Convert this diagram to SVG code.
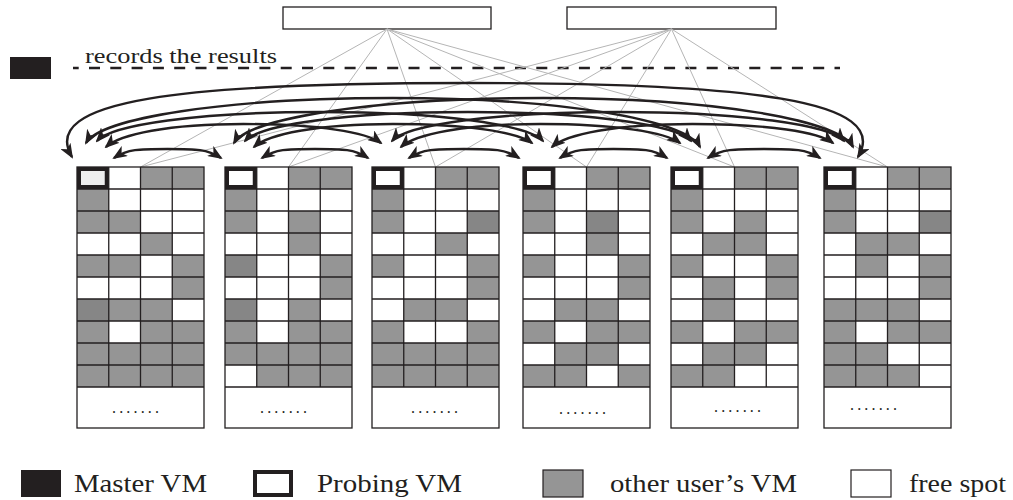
<svg xmlns="http://www.w3.org/2000/svg" width="1013" height="500" viewBox="0 0 1013 500">
  <style>
    .ink{fill:#231f20}
    .box{fill:#fff;stroke:#231f20;stroke-width:1.3}
    .g{fill:#959595}
    .d{fill:#868686}
    .ln{fill:none;stroke:#231f20;stroke-width:1.3}
    .probe{fill:none;stroke:#231f20;stroke-width:4}
    .wire{stroke:#b5b5b5;stroke-width:1;fill:none}
    .arc{fill:none;stroke:#231f20;stroke-width:2.4;marker-start:url(#ah);marker-end:url(#ah)}
    .lbl{font-family:"Liberation Serif","Times New Roman",serif;fill:#231f20}
    .dots{font-family:"Liberation Serif","Times New Roman",serif;font-size:16px;fill:#231f20}
  </style>
  <defs>
    <marker id="ah" viewBox="0 0 15 12" refX="13" refY="6" markerWidth="15" markerHeight="12" markerUnits="userSpaceOnUse" orient="auto-start-reverse">
      <path d="M0,0 L15,6 L0,12 L4,6 z" fill="#231f20"/>
    </marker>
    <!-- shared grid lines of one host rack: 4 columns x 10 rows, plus a bottom box -->
    <g id="rack-lines">
      <path class="ln" d="M31.75,0V220M63.5,0V220M95.25,0V220M0,22H127M0,44H127M0,66H127M0,88H127M0,110H127M0,132H127M0,154H127M0,176H127M0,198H127M0,220H127"/>
      <rect class="ln" x="0" y="0" width="127" height="261"/>
      <rect class="probe" x="2" y="2" width="27.75" height="18"/>
    </g>
  </defs>

  <rect width="1013" height="500" fill="#fff"/>

  <!-- top servers -->
  <g id="server-a"><rect class="box" x="283" y="7" width="208" height="22"/></g>
  <g id="server-b"><rect class="box" x="567" y="7" width="209" height="22"/></g>

  <!-- master VM and its result line -->
  <g id="master">
    <rect class="ink" x="10" y="57" width="41" height="22"/>
    <line x1="73" y1="68" x2="840" y2="68" stroke="#231f20" stroke-width="2.4" stroke-dasharray="11 10.3" stroke-dashoffset="5.3"/>
    <text class="lbl" x="85" y="63" font-size="22" textLength="192" lengthAdjust="spacingAndGlyphs">records the results</text>
  </g>

  <!-- thin links from the servers to the racks -->
  <g id="links">
    <path class="wire" d="M387,29L140.5,167M387,29L288.5,167M387,29L435.5,167M387,29L586.5,167M387,29L734.5,167M387,29L887.5,167"/>
    <path class="wire" d="M671.5,29L140.5,167M671.5,29L288.5,167M671.5,29L435.5,167M671.5,29L586.5,167M671.5,29L734.5,167M671.5,29L887.5,167"/>
  </g>

  <!-- racks -->
  <g id="rack1" transform="translate(77,167)">
    <rect x="0" y="0" width="127" height="261" fill="#fff"/>
    <rect x="3" y="3" width="26" height="16" fill="#eeeeee"/>
    <rect class="g" x="63.5" y="0" width="63.5" height="22"/>
    <rect class="g" x="0" y="22" width="31.75" height="22"/>
    <rect class="g" x="0" y="44" width="63.5" height="22"/>
    <rect class="g" x="63.5" y="66" width="31.75" height="22"/>
    <rect class="g" x="0" y="88" width="63.5" height="22"/>
    <rect class="g" x="95.25" y="88" width="31.75" height="22"/>
    <rect class="g" x="95.25" y="110" width="31.75" height="22"/>
    <rect class="d" x="0" y="132" width="31.75" height="22"/>
    <rect class="g" x="31.75" y="132" width="63.5" height="22"/>
    <rect class="g" x="0" y="154" width="31.75" height="22"/>
    <rect class="g" x="63.5" y="154" width="63.5" height="22"/>
    <rect class="g" x="0" y="176" width="127" height="44"/>
    <use href="#rack-lines"/>
    <text class="dots" x="35" y="246" textLength="47" lengthAdjust="spacing">.......</text>
  </g>

  <g id="rack2" transform="translate(225,167)">
    <rect x="0" y="0" width="127" height="261" fill="#fff"/>
    <rect class="g" x="63.5" y="0" width="63.5" height="22"/>
    <rect class="g" x="0" y="22" width="31.75" height="22"/>
    <rect class="g" x="0" y="44" width="31.75" height="22"/>
    <rect class="g" x="63.5" y="44" width="31.75" height="22"/>
    <rect class="g" x="63.5" y="66" width="31.75" height="22"/>
    <rect class="d" x="0" y="88" width="31.75" height="22"/>
    <rect class="g" x="95.25" y="88" width="31.75" height="22"/>
    <rect class="g" x="95.25" y="110" width="31.75" height="22"/>
    <rect class="d" x="0" y="132" width="31.75" height="22"/>
    <rect class="g" x="63.5" y="132" width="31.75" height="22"/>
    <rect class="g" x="0" y="154" width="31.75" height="22"/>
    <rect class="g" x="63.5" y="154" width="63.5" height="22"/>
    <rect class="g" x="0" y="176" width="127" height="22"/>
    <rect class="g" x="31.75" y="198" width="95.25" height="22"/>
    <use href="#rack-lines"/>
    <text class="dots" x="35" y="246" textLength="47" lengthAdjust="spacing">.......</text>
  </g>

  <g id="rack3" transform="translate(372,167)">
    <rect x="0" y="0" width="127" height="261" fill="#fff"/>
    <rect class="g" x="63.5" y="0" width="63.5" height="22"/>
    <rect class="g" x="0" y="22" width="31.75" height="22"/>
    <rect class="g" x="0" y="44" width="31.75" height="22"/>
    <rect class="d" x="95.25" y="44" width="31.75" height="22"/>
    <rect class="g" x="63.5" y="66" width="31.75" height="22"/>
    <rect class="g" x="0" y="88" width="31.75" height="22"/>
    <rect class="g" x="95.25" y="88" width="31.75" height="22"/>
    <rect class="g" x="95.25" y="110" width="31.75" height="22"/>
    <rect class="g" x="31.75" y="132" width="63.5" height="22"/>
    <rect class="g" x="0" y="154" width="31.75" height="22"/>
    <rect class="g" x="95.25" y="154" width="31.75" height="22"/>
    <rect class="g" x="0" y="176" width="127" height="44"/>
    <use href="#rack-lines"/>
    <text class="dots" x="39" y="246" textLength="47" lengthAdjust="spacing">.......</text>
  </g>

  <g id="rack4" transform="translate(523,167)">
    <rect x="0" y="0" width="127" height="261" fill="#fff"/>
    <rect class="g" x="63.5" y="0" width="63.5" height="22"/>
    <rect class="g" x="0" y="22" width="31.75" height="22"/>
    <rect class="g" x="0" y="44" width="31.75" height="22"/>
    <rect class="d" x="63.5" y="44" width="31.75" height="22"/>
    <rect class="g" x="63.5" y="66" width="31.75" height="22"/>
    <rect class="g" x="0" y="88" width="31.75" height="22"/>
    <rect class="g" x="95.25" y="88" width="31.75" height="22"/>
    <rect class="g" x="95.25" y="110" width="31.75" height="22"/>
    <rect class="g" x="31.75" y="132" width="63.5" height="22"/>
    <rect class="g" x="0" y="154" width="31.75" height="22"/>
    <rect class="g" x="63.5" y="154" width="63.5" height="22"/>
    <rect class="g" x="31.75" y="176" width="63.5" height="22"/>
    <rect class="g" x="0" y="198" width="63.5" height="22"/>
    <rect class="g" x="95.25" y="198" width="31.75" height="22"/>
    <use href="#rack-lines"/>
    <text class="dots" x="36" y="247" textLength="47" lengthAdjust="spacing">.......</text>
  </g>

  <g id="rack5" transform="translate(671,167)">
    <rect x="0" y="0" width="127" height="261" fill="#fff"/>
    <rect class="g" x="63.5" y="0" width="63.5" height="22"/>
    <rect class="g" x="0" y="22" width="31.75" height="22"/>
    <rect class="g" x="0" y="44" width="31.75" height="22"/>
    <rect class="g" x="63.5" y="44" width="31.75" height="22"/>
    <rect class="g" x="31.75" y="66" width="63.5" height="22"/>
    <rect class="g" x="0" y="88" width="31.75" height="22"/>
    <rect class="g" x="95.25" y="88" width="31.75" height="22"/>
    <rect class="g" x="31.75" y="110" width="31.75" height="22"/>
    <rect class="g" x="95.25" y="110" width="31.75" height="22"/>
    <rect class="g" x="31.75" y="132" width="31.75" height="22"/>
    <rect class="g" x="0" y="154" width="31.75" height="22"/>
    <rect class="g" x="63.5" y="154" width="63.5" height="22"/>
    <rect class="g" x="31.75" y="176" width="63.5" height="22"/>
    <rect class="g" x="0" y="198" width="63.5" height="22"/>
    <use href="#rack-lines"/>
    <text class="dots" x="43" y="245" textLength="47" lengthAdjust="spacing">.......</text>
  </g>

  <g id="rack6" transform="translate(824,167)">
    <rect x="0" y="0" width="127" height="261" fill="#fff"/>
    <rect class="g" x="63.5" y="0" width="63.5" height="22"/>
    <rect class="g" x="0" y="22" width="31.75" height="22"/>
    <rect class="g" x="0" y="44" width="31.75" height="22"/>
    <rect class="d" x="95.25" y="44" width="31.75" height="22"/>
    <rect class="g" x="31.75" y="66" width="63.5" height="22"/>
    <rect class="g" x="31.75" y="88" width="31.75" height="22"/>
    <rect class="g" x="95.25" y="88" width="31.75" height="22"/>
    <rect class="g" x="95.25" y="110" width="31.75" height="22"/>
    <rect class="g" x="0" y="132" width="95.25" height="22"/>
    <rect class="g" x="0" y="154" width="31.75" height="22"/>
    <rect class="g" x="63.5" y="154" width="63.5" height="22"/>
    <rect class="g" x="0" y="176" width="63.5" height="22"/>
    <rect class="g" x="0" y="198" width="95.25" height="22"/>
    <use href="#rack-lines"/>
    <text class="dots" x="26" y="243" textLength="47" lengthAdjust="spacing">.......</text>
  </g>

  <!-- probing VMs talk to each other: one double-headed arc per pair -->
  <g id="connectors">
    <path class="arc" d="M114,158 C128,149 138.1,149 167.5,149 C196.9,149 207,149 221,158"/>
    <path class="arc" d="M262,158 C276,149 285.85,149 315,149 C344.15,149 354,149 368,158"/>
    <path class="arc" d="M409,158 C423,149 433.75,149 464,149 C494.25,149 505,149 519,158"/>
    <path class="arc" d="M560,158 C574,149 584.1,149 613.5,149 C642.9,149 653,149 667,158"/>
    <path class="arc" d="M708,158 C722,149 733.2,149 764,149 C794.8,149 806,149 820,158"/>

    <path class="arc" d="M106,147 C120,134.3 167.9,124 243.5,124 C319.1,124 367,132.5 381,143"/>
    <path class="arc" d="M254,147 C268,134.3 316.55,124 393,124 C469.45,124 518,132.5 532,143"/>
    <path class="arc" d="M401,147 C415,134.3 463.8,124 540.5,124 C617.2,124 666,132.5 680,143"/>
    <path class="arc" d="M552,147 C566,134.3 615.2,124 692.5,124 C769.8,124 819,132.5 833,143"/>

    <path class="arc" d="M97,141 C111,125 197.35,112 320,112 C442.65,112 529,125 543,141"/>
    <path class="arc" d="M245,141 C259,125 345.35,112 468,112 C590.65,112 677,125 691,141"/>
    <path class="arc" d="M392,141 C406,125 493.7,112 618,112 C742.3,112 830,125 844,141"/>

    <path class="arc" d="M86,143 C100,118.2 224.15,98 393,98 C561.85,98 686,120 700,147"/>
    <path class="arc" d="M234,143 C248,118.2 373.3,98 543.5,98 C713.7,98 839,120 853,147"/>

    <path class="arc" d="M72,157 C38,100 180,83 467,83 C750,83 892,100 858,157"/>
  </g>

  <!-- legend -->
  <g id="legend">
    <rect class="ink" x="21" y="470" width="40" height="27"/>
    <text class="lbl" x="74" y="492" font-size="26" textLength="133" lengthAdjust="spacingAndGlyphs">Master VM</text>
    <rect x="255" y="472" width="36" height="23" fill="#fff" stroke="#231f20" stroke-width="4"/>
    <text class="lbl" x="317" y="492" font-size="26" textLength="145" lengthAdjust="spacingAndGlyphs">Probing VM</text>
    <rect x="543" y="470" width="40" height="27" fill="#959595" stroke="#231f20" stroke-width="1.2"/>
    <text class="lbl" x="610" y="492" font-size="26" textLength="187" lengthAdjust="spacingAndGlyphs">other user’s VM</text>
    <rect x="851" y="470" width="40" height="27" fill="#fff" stroke="#231f20" stroke-width="1.2"/>
    <text class="lbl" x="909" y="492" font-size="26" textLength="97" lengthAdjust="spacingAndGlyphs">free spot</text>
  </g>
</svg>
